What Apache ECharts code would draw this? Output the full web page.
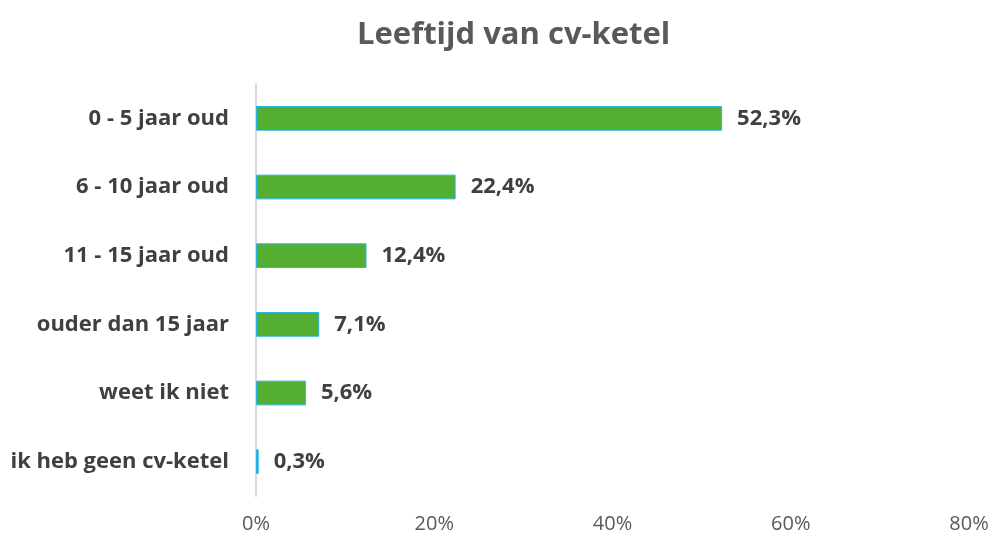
<!DOCTYPE html>
<html>
<head>
<meta charset="utf-8">
<script src="https://cdn.jsdelivr.net/npm/echarts@6/dist/echarts.min.js"></script>
<style>
  html, body { margin: 0; padding: 0; background: #fff; }
  #main { width: 992px; height: 537px; }
</style>
</head>
<body>
<div id="main"></div>
<script>
var categories = ['0 - 5 jaar oud', '6 - 10 jaar oud', '11 - 15 jaar oud', 'ouder dan 15 jaar', 'weet ik niet', 'ik heb geen cv-ketel'];
var values = [52.3, 22.4, 12.4, 7.1, 5.6, 0.3];
var xTicks = [0, 20, 40, 60, 80];

var chart = echarts.init(document.getElementById('main'));
var font = '"Open Sans", sans-serif';

chart.setOption({
    title: {
        text: 'Leeftijd van cv-ketel',
        left: 352,
        top: 15,
        textStyle: { fontFamily: font, fontSize: 31, fontWeight: 'bold', color: '#595959' }
    },
    grid: { left: 256, right: 23, top: 84, bottom: 41, containLabel: false },
    xAxis: {
        type: 'value',
        min: xTicks[0],
        max: xTicks[xTicks.length - 1],
        interval: 20,
        axisLine: { show: false },
        axisTick: { show: false },
        splitLine: { show: false },
        axisLabel: {
            margin: 18,
            fontFamily: font, fontSize: 20, color: '#595959',
            formatter: function (v) { return v + '%'; }
        }
    },
    yAxis: {
        type: 'category',
        data: categories,
        inverse: true,
        axisLine: { show: true, lineStyle: { color: '#d9d9d9', width: 2 } },
        axisTick: { show: false },
        axisLabel: { margin: 27, fontFamily: font, fontSize: 22, fontWeight: 'bold', color: '#404040' }
    },
    series: [{
        type: 'bar',
        data: values,
        barCategoryGap: '64%',
        itemStyle: { color: '#53ae32', borderColor: '#29b6e6', borderWidth: 1 },
        label: {
            show: true,
            position: 'right',
            distance: 15,
            fontFamily: font, fontSize: 22, fontWeight: 'bold', color: '#404040',
            formatter: function (p) { return p.value.toFixed(1).replace('.', ',') + '%'; }
        }
    }]
});
</script>
</body>
</html>
